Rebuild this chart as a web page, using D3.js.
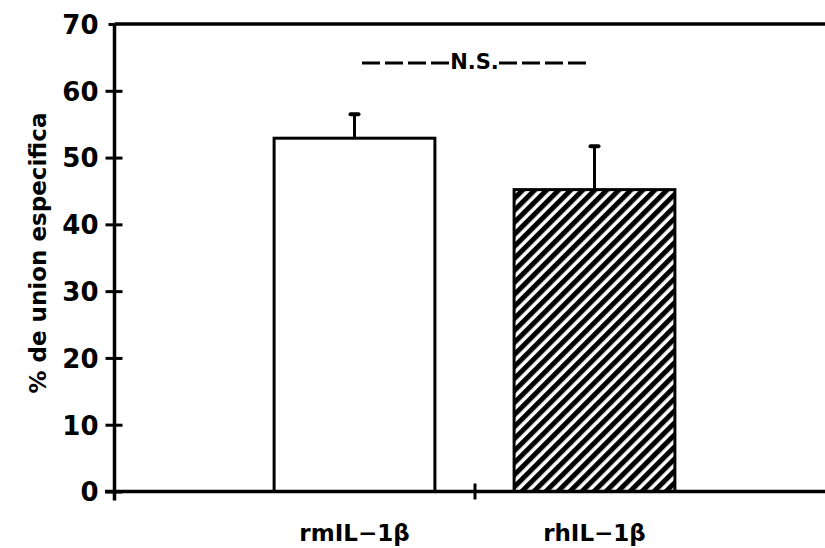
<!DOCTYPE html>
<html><head><meta charset="utf-8">
<script src="https://cdn.jsdelivr.net/npm/d3@7"></script>
<style>body{margin:0;background:#fff}svg{display:block}</style>
</head><body>
<script>
const categories = ["rmIL\u22121\u03b2", "rhIL\u22121\u03b2"];
const means = [52.9, 45.2];
const errors = [3.6, 6.5];
const yTicks = [0, 10, 20, 30, 40, 50, 60, 70];
const yLabel = "% de union especifica";
const sigLabel = "N.S.";

const W = 825, H = 548;
const svg = d3.select("body").append("svg").attr("width", W).attr("height", H);
const font = "'DejaVu Sans', sans-serif";

const y = d3.scaleLinear().domain([0, 70]).range([491.5, 24]);
const x = d3.scaleLinear().domain([0, 3]).range([114.5, 834.5]);
const barW = x(0.67) - x(0);

const defs = svg.append("defs");
const pat = defs.append("pattern").attr("id", "hatch").attr("patternUnits", "userSpaceOnUse")
  .attr("width", 8.5).attr("height", 8.5).attr("patternTransform", "rotate(45)");
pat.append("rect").attr("width", 8.5).attr("height", 8.5).attr("fill", "#fff");
pat.append("line").attr("x1", 0).attr("y1", 0).attr("x2", 0).attr("y2", 8.5)
  .attr("stroke", "#000").attr("stroke-width", 10);

// bars
const bars = svg.append("g");
categories.forEach((c, i) => {
  const cx = x(i + 1);
  bars.append("rect").attr("x", cx - barW / 2).attr("y", y(means[i]))
    .attr("width", barW).attr("height", y(0) - y(means[i]))
    .attr("fill", i === 0 ? "#fff" : "url(#hatch)")
    .attr("stroke", "#000").attr("stroke-width", 3);
  bars.append("line").attr("x1", cx).attr("x2", cx)
    .attr("y1", y(means[i])).attr("y2", y(means[i] + errors[i]))
    .attr("stroke", "#000").attr("stroke-width", 3);
  bars.append("line").attr("x1", cx - 4).attr("x2", cx + 4)
    .attr("y1", y(means[i] + errors[i])).attr("y2", y(means[i] + errors[i]))
    .attr("stroke", "#000").attr("stroke-width", 4).attr("stroke-linecap", "round");
});

// top frame line
svg.append("line").attr("x1", x(0)).attr("x2", W).attr("y1", y(70)).attr("y2", y(70))
  .attr("stroke", "#000").attr("stroke-width", 3.5);

// x axis
const xAxis = d3.axisBottom(x).tickValues([1.5]).tickSize(8).tickFormat("");
const gx = svg.append("g").attr("transform", `translate(0,${y(0)})`).call(xAxis);
gx.select(".domain").remove();
gx.append("line").attr("x1", 105).attr("x2", W).attr("y1", 0).attr("y2", 0)
  .attr("stroke", "#000").attr("stroke-width", 3.5);
gx.selectAll(".tick line").attr("y1", -8).attr("stroke-width", 3);

// y axis
const yAxis = d3.axisLeft(y).tickValues(yTicks).tickSize(9).tickPadding(7);
const gy = svg.append("g").attr("transform", `translate(${x(0)},0)`).call(yAxis);
gy.select(".domain").attr("d", `M0,${y(70)}V${y(0) + 9}`).attr("stroke-width", 3.5);
gy.selectAll(".tick line").attr("x2", -9).attr("x1", 8).attr("stroke-width", 3);
gy.selectAll(".tick").filter(d => d === 70).select("line").attr("x1", 0).attr("x2", -6);
gy.selectAll(".tick text").attr("font-family", font).attr("font-weight", "bold")
  .attr("font-size", 26).attr("fill", "#000").attr("dy", "0.36em");

// category labels
categories.forEach((c, i) => {
  svg.append("text").attr("x", x(i + 1)).attr("y", 541).attr("text-anchor", "middle")
    .attr("font-family", font).attr("font-weight", "bold").attr("font-size", 23)
    .text(c);
});

// y label
svg.append("text").attr("transform", `translate(46,${253}) rotate(-90)`)
  .attr("text-anchor", "middle").attr("font-family", font).attr("font-weight", "bold")
  .attr("font-size", 23).text(yLabel);

// significance
const sigX = (x(1) + x(2)) / 2;
svg.append("text").attr("x", sigX).attr("y", 69).attr("text-anchor", "middle")
  .attr("font-family", font).attr("font-weight", "bold").attr("font-size", 21).text(sigLabel);
svg.append("line").attr("x1", 362).attr("x2", 450).attr("y1", 63).attr("y2", 63)
  .attr("stroke", "#000").attr("stroke-width", 3).attr("stroke-dasharray", "18,5");
svg.append("line").attr("x1", 499).attr("x2", 587).attr("y1", 63).attr("y2", 63)
  .attr("stroke", "#000").attr("stroke-width", 3).attr("stroke-dasharray", "18,5");
</script>
</body></html>
